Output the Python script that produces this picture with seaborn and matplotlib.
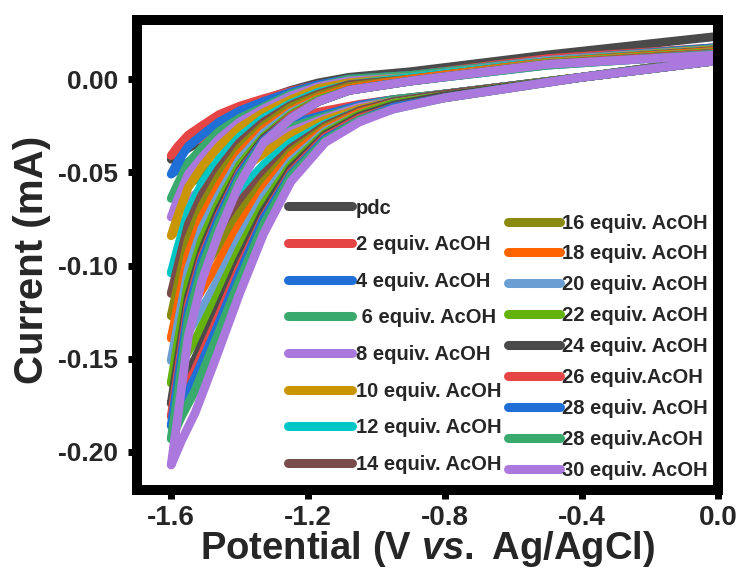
import matplotlib
matplotlib.use("Agg")
import matplotlib.pyplot as plt
from matplotlib.lines import Line2D
from matplotlib.ticker import FixedLocator, FormatStrFormatter
import pandas as pd
import seaborn as sns

# Potentials (V vs. Ag/AgCl): cathodic sweep, then the return sweep
e_forward = [0.0, -0.4, -0.8, -0.95, -1.05, -1.15, -1.25, -1.33, -1.4, -1.47, -1.53, -1.57, -1.6]
e_reverse = [-1.6, -1.58, -1.55, -1.51, -1.46, -1.4, -1.33, -1.25, -1.17, -1.08, -0.9, -0.5, 0.0]

labels = ["pdc", "2 equiv. AcOH", "4 equiv. AcOH", " 6 equiv. AcOH", "8 equiv. AcOH",
          "10 equiv. AcOH", "12 equiv. AcOH", "14 equiv. AcOH", "16 equiv. AcOH",
          "18 equiv. AcOH", "20 equiv. AcOH", "22 equiv. AcOH", "24 equiv. AcOH",
          "26 equiv.AcOH", "28 equiv. AcOH", "28 equiv.AcOH", "30 equiv. AcOH"]
colors = ["#4a4a4a", "#e64545", "#1f6fd6", "#3aa96d", "#ab78dd", "#c99500", "#00c6c6",
          "#7a4b4b", "#8a8a10", "#ff6400", "#6b9fd3", "#63b20e", "#4a4a4a", "#e64545",
          "#1f6fd6", "#3aa96d", "#ab78dd"]

# Currents (mA) on the cathodic sweep
fwd_pdc = [0.011, 0.001, -0.008, -0.011, -0.014, -0.018, -0.022, -0.025, -0.027, -0.031, -0.035, -0.039, -0.043]
fwd_02 = [0.011, 0.001, -0.008, -0.011, -0.0135, -0.017, -0.021, -0.024, -0.026, -0.029, -0.033, -0.037, -0.041]
fwd_04 = [0.011, 0.001, -0.008, -0.011, -0.014, -0.019, -0.024, -0.028, -0.031, -0.037, -0.042, -0.047, -0.051]
fwd_06 = [0.011, 0.001, -0.008, -0.011, -0.015, -0.020, -0.026, -0.033, -0.038, -0.046, -0.054, -0.059, -0.064]
fwd_08 = [0.011, 0.001, -0.008, -0.012, -0.015, -0.021, -0.028, -0.036, -0.044, -0.054, -0.062, -0.068, -0.074]
fwd_10 = [0.011, 0.001, -0.008, -0.012, -0.016, -0.022, -0.030, -0.040, -0.049, -0.061, -0.071, -0.078, -0.084]
fwd_12 = [0.011, 0.001, -0.008, -0.012, -0.017, -0.024, -0.034, -0.046, -0.060, -0.075, -0.088, -0.096, -0.104]
fwd_14 = [0.011, 0.001, -0.008, -0.012, -0.017, -0.025, -0.037, -0.051, -0.066, -0.083, -0.098, -0.107, -0.115]
fwd_16 = [0.010, 0.001, -0.009, -0.013, -0.018, -0.026, -0.039, -0.055, -0.072, -0.092, -0.108, -0.118, -0.127]
fwd_18 = [0.010, 0.001, -0.009, -0.013, -0.018, -0.027, -0.041, -0.059, -0.078, -0.101, -0.119, -0.130, -0.139]
fwd_20 = [0.010, 0.001, -0.009, -0.013, -0.019, -0.028, -0.044, -0.063, -0.085, -0.110, -0.130, -0.141, -0.151]
fwd_22 = [0.010, 0.001, -0.009, -0.013, -0.019, -0.029, -0.046, -0.067, -0.091, -0.118, -0.140, -0.152, -0.163]
fwd_24 = [0.010, 0.001, -0.009, -0.014, -0.020, -0.030, -0.048, -0.071, -0.097, -0.126, -0.150, -0.163, -0.174]
fwd_26 = [0.010, 0.001, -0.010, -0.015, -0.021, -0.031, -0.050, -0.074, -0.101, -0.131, -0.156, -0.169, -0.181]
fwd_28a = [0.010, 0.001, -0.010, -0.015, -0.022, -0.032, -0.051, -0.075, -0.104, -0.135, -0.160, -0.174, -0.186]
fwd_28b = [0.010, 0.001, -0.010, -0.016, -0.022, -0.033, -0.052, -0.078, -0.108, -0.140, -0.167, -0.181, -0.193]
fwd_30 = [0.010, 0.001, -0.010, -0.016, -0.023, -0.034, -0.055, -0.083, -0.115, -0.150, -0.179, -0.194, -0.207]

# Currents (mA) on the return sweep
rev_pdc = [-0.043, -0.037, -0.031, -0.026, -0.020, -0.015, -0.011, -0.006, -0.002, 0.001, 0.004, 0.013, 0.023]
rev_02 = [-0.041, -0.036, -0.030, -0.025, -0.019, -0.0145, -0.0105, -0.0065, -0.003, -0.0005, 0.002, 0.011, 0.017]
rev_04 = [-0.051, -0.044, -0.036, -0.030, -0.023, -0.017, -0.012, -0.007, -0.003, 0.000, 0.002, 0.010, 0.017]
rev_06 = [-0.064, -0.056, -0.045, -0.037, -0.028, -0.021, -0.015, -0.008, -0.004, 0.000, 0.002, 0.010, 0.0165]
rev_08 = [-0.074, -0.064, -0.051, -0.042, -0.032, -0.023, -0.016, -0.009, -0.004, -0.001, 0.001, 0.010, 0.016]
rev_10 = [-0.084, -0.073, -0.058, -0.047, -0.036, -0.026, -0.018, -0.011, -0.005, -0.002, 0.001, 0.0095, 0.016]
rev_12 = [-0.104, -0.090, -0.071, -0.056, -0.043, -0.031, -0.021, -0.013, -0.007, -0.003, 0.001, 0.0095, 0.0155]
rev_14 = [-0.115, -0.100, -0.078, -0.062, -0.048, -0.034, -0.023, -0.014, -0.008, -0.003, 0.000, 0.009, 0.0155]
rev_16 = [-0.127, -0.110, -0.086, -0.068, -0.052, -0.037, -0.025, -0.015, -0.009, -0.004, 0.000, 0.009, 0.015]
rev_18 = [-0.139, -0.121, -0.094, -0.074, -0.057, -0.040, -0.027, -0.017, -0.010, -0.005, 0.000, 0.009, 0.015]
rev_20 = [-0.151, -0.131, -0.102, -0.080, -0.062, -0.043, -0.029, -0.018, -0.011, -0.006, -0.001, 0.0085, 0.0145]
rev_22 = [-0.163, -0.141, -0.109, -0.086, -0.066, -0.046, -0.031, -0.019, -0.011, -0.006, -0.001, 0.0085, 0.0145]
rev_24 = [-0.174, -0.151, -0.117, -0.092, -0.070, -0.049, -0.032, -0.020, -0.012, -0.006, -0.001, 0.008, 0.014]
rev_26 = [-0.181, -0.157, -0.121, -0.095, -0.073, -0.050, -0.033, -0.020, -0.012, -0.006, -0.001, 0.008, 0.014]
rev_28a = [-0.186, -0.161, -0.124, -0.097, -0.074, -0.051, -0.033, -0.021, -0.012, -0.006, -0.001, 0.0075, 0.0135]
rev_28b = [-0.193, -0.168, -0.129, -0.101, -0.077, -0.053, -0.034, -0.021, -0.012, -0.006, -0.001, 0.0075, 0.0135]
rev_30 = [-0.207, -0.180, -0.138, -0.108, -0.082, -0.056, -0.034, -0.021, -0.012, -0.006, -0.001, 0.008, 0.013]

x_ticks = [-1.6, -1.2, -0.8, -0.4, 0.0]
y_ticks = [-0.20, -0.15, -0.10, -0.05, 0.00]

forward_sweeps = [fwd_pdc, fwd_02, fwd_04, fwd_06, fwd_08, fwd_10, fwd_12, fwd_14, fwd_16,
                  fwd_18, fwd_20, fwd_22, fwd_24, fwd_26, fwd_28a, fwd_28b, fwd_30]
reverse_sweeps = [rev_pdc, rev_02, rev_04, rev_06, rev_08, rev_10, rev_12, rev_14, rev_16,
                  rev_18, rev_20, rev_22, rev_24, rev_26, rev_28a, rev_28b, rev_30]

rows = []
for label, fwd, rev in zip(labels, forward_sweeps, reverse_sweeps):
    potentials = e_forward + e_reverse
    currents = fwd + rev
    for step, (e, i) in enumerate(zip(potentials, currents)):
        rows.append({"scan": label, "step": step, "E": e, "I": i})
df = pd.DataFrame(rows)

sns.set_style("ticks")
plt.rcParams["font.family"] = ["Liberation Sans", "DejaVu Sans"]
plt.rcParams["font.weight"] = "bold"
plt.rcParams["axes.unicode_minus"] = False
plt.rcParams["mathtext.fontset"] = "custom"
plt.rcParams["mathtext.it"] = "Liberation Sans:italic:bold"
plt.rcParams["mathtext.rm"] = "Liberation Sans:bold"

fig = plt.figure(figsize=(7.42, 5.71), dpi=100)
ax = fig.add_axes([0.1846, 0.1419, 0.7837, 0.823])

sns.lineplot(data=df, x="E", y="I", hue="scan", hue_order=labels, palette=colors,
             sort=False, estimator=None, legend=False, ax=ax,
             linewidth=6.3, solid_capstyle="round", solid_joinstyle="round")

ax.set_xlim(-1.70, 0.0)
ax.set_ylim(-0.2204, 0.0317)
ax.xaxis.set_major_locator(FixedLocator(x_ticks))
ax.yaxis.set_major_locator(FixedLocator(y_ticks))
ax.xaxis.set_major_formatter(FormatStrFormatter("%.1f"))
ax.yaxis.set_major_formatter(FormatStrFormatter("%.2f"))

for spine in ax.spines.values():
    spine.set_visible(True)
    spine.set_linewidth(7.2)
    spine.set_color("black")

ax.tick_params(axis="both", direction="out", length=6.5, width=5, color="black")
ax.tick_params(axis="y", labelsize=19, pad=7)
ax.tick_params(axis="x", labelsize=20, pad=4)
for lab in ax.get_xticklabels() + ax.get_yticklabels():
    lab.set_fontweight("bold")

ax.set_xlabel("Potential (V $\\mathit{vs.}$ Ag/AgCl)", fontsize=27.5, fontweight="bold")
ax.set_ylabel("Current (mA)", fontsize=29, fontweight="bold")
ax.xaxis.set_label_coords(0.5, -0.083)
ax.yaxis.set_label_coords(-0.148, 0.49)

handles = [Line2D([0], [0], color=c, lw=6.5, solid_capstyle="round") for c in colors]

leg_left = fig.legend(handles[:8], labels[:8], loc="upper left",
                      bbox_to_anchor=(0.3875, 0.6523), frameon=False,
                      prop={"size": 14.5, "weight": "bold"}, borderpad=0,
                      borderaxespad=0, handlelength=3.2, handletextpad=0.2,
                      labelspacing=0.875)
leg_right = fig.legend(handles[8:], labels[8:], loc="upper left",
                       bbox_to_anchor=(0.684, 0.626), frameon=False,
                       prop={"size": 14.5, "weight": "bold"}, borderpad=0,
                       borderaxespad=0, handlelength=2.6, handletextpad=0.1,
                       labelspacing=0.59)

fig.savefig("out.png", dpi=100)
